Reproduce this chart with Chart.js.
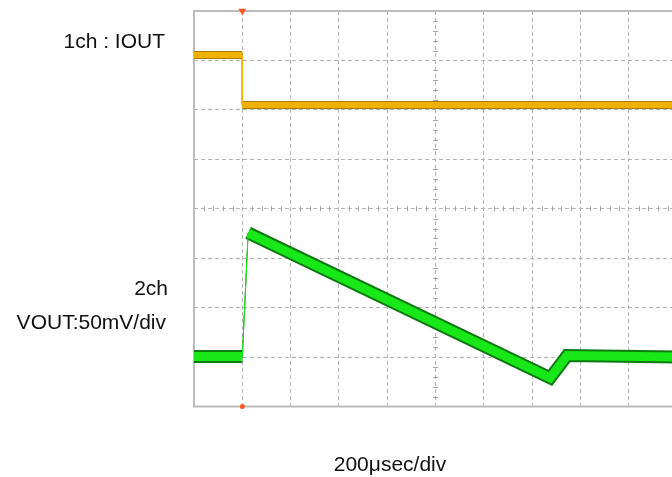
<!DOCTYPE html>
<html>
<head>
<meta charset="utf-8">
<script src="https://cdn.jsdelivr.net/npm/chart.js@4"></script>
<style>
  html, body { margin: 0; padding: 0; background: #fff; overflow: hidden; }
  #wrap { position: relative; width: 700px; height: 477px; }
</style>
</head>
<body>
<div id="wrap"><canvas id="scope" width="700" height="477"></canvas></div>
<script>
// time in divisions (200 usec/div), levels in vertical divisions from the bottom
const xDivs = 10;
const yDivs = 8;

const ioutTime = [0, 1.0, 1.0, 10];
const ioutLevel = [7.11, 7.11, 6.10, 6.10];

const voutTime = [0, 1.0, 1.12, 7.37, 7.72, 10];
const voutLevel = [1.01, 1.01, 3.51, 0.58, 1.03, 1.0];

const triggerTime = 1.0;

const channelLabels = ["1ch : IOUT", "2ch", "VOUT:50mV/div"];
const timebaseLabel = "200\u03bcsec/div";

// order: lower numbers are drawn on top
function trace(times, levels, color, width, edgeIndex, order) {
  return {
    data: times.map((t, i) => ({ x: t, y: levels[i] })),
    showLine: true,
    order,
    borderColor: color,
    borderWidth: width,
    borderCapStyle: "butt",
    borderJoinStyle: "miter",
    pointRadius: 0,
    segment: {
      borderWidth: (c) => (c.p0DataIndex === edgeIndex ? 1 : width),
    },
  };
}

const scopePlugin = {
  id: "scope",
  beforeDatasetsDraw(chart) {
    const { ctx, chartArea: a, scales } = chart;
    const xs = scales.x, ys = scales.y;
    const cx = xs.getPixelForValue(xDivs / 2);
    const cy = ys.getPixelForValue(yDivs / 2);
    ctx.save();
    ctx.strokeStyle = "#a4a4a4";
    ctx.lineWidth = 1;
    ctx.beginPath();
    for (let i = 1; i < xDivs * 5; i++) {
      if (i % 5 === 0) continue;
      const px = Math.round(xs.getPixelForValue(i / 5)) + 0.5;
      ctx.moveTo(px, cy - 2.5);
      ctx.lineTo(px, cy + 2.5);
    }
    for (let i = 1; i < yDivs * 5; i++) {
      if (i % 5 === 0) continue;
      const py = Math.round(ys.getPixelForValue(i / 5)) + 0.5;
      ctx.moveTo(cx - 2.5, py);
      ctx.lineTo(cx + 2.5, py);
    }
    ctx.stroke();
    // frame
    ctx.strokeStyle = "#bcbcbc";
    ctx.lineWidth = 2;
    ctx.strokeRect(a.left, a.top, a.right - a.left, a.bottom - a.top);
    ctx.restore();
  },
  afterDraw(chart) {
    const { ctx } = chart;
    ctx.save();
    ctx.fillStyle = "#111";
    ctx.font = "21px 'Liberation Sans', Arial, sans-serif";
    ctx.textBaseline = "alphabetic";
    ctx.textAlign = "right";
    ctx.fillText(channelLabels[0], 165, 48);
    ctx.fillText(channelLabels[1], 168, 295);
    ctx.fillText(channelLabels[2], 166, 329);
    ctx.textAlign = "center";
    ctx.fillText(timebaseLabel, 390, 471);
    ctx.restore();
  },
};

const gridOpts = { color: "#b4b4b4", lineWidth: 1, drawTicks: false };
const borderOpts = { display: false, dash: [4, 3] };

new Chart(document.getElementById("scope"), {
  type: "scatter",
  data: {
    datasets: [
      trace(ioutTime, ioutLevel, "#a87c00", 8, 1, 4),
      trace(ioutTime, ioutLevel, "#f0b000", 6, 1, 3),
      trace(voutTime, voutLevel, "#0d7a10", 13, 1, 2),
      trace(voutTime, voutLevel, "#18e818", 9, 1, 1),
      {
        data: [{ x: triggerTime, y: yDivs }],
        order: 0,
        pointStyle: "triangle",
        rotation: 180,
        pointRadius: 4.5,
        backgroundColor: "#ff5a28",
        borderWidth: 0,
        clip: false,
      },
      {
        data: [{ x: triggerTime, y: 0 }],
        order: 0,
        pointStyle: "circle",
        pointRadius: 2.5,
        backgroundColor: "#ff5a28",
        borderWidth: 0,
        clip: false,
      },
    ],
  },
  options: {
    responsive: false,
    animation: false,
    devicePixelRatio: 1,
    layout: { padding: { left: 194, top: 11, right: 22.7, bottom: 70.5 } },
    plugins: { legend: { display: false }, tooltip: { enabled: false } },
    scales: {
      x: {
        type: "linear",
        min: 0,
        max: xDivs,
        ticks: { display: false, stepSize: 1 },
        grid: gridOpts,
        border: borderOpts,
      },
      y: {
        min: 0,
        max: yDivs,
        ticks: { display: false, stepSize: 1 },
        grid: gridOpts,
        border: borderOpts,
      },
    },
  },
  plugins: [scopePlugin],
});
</script>
</body>
</html>
